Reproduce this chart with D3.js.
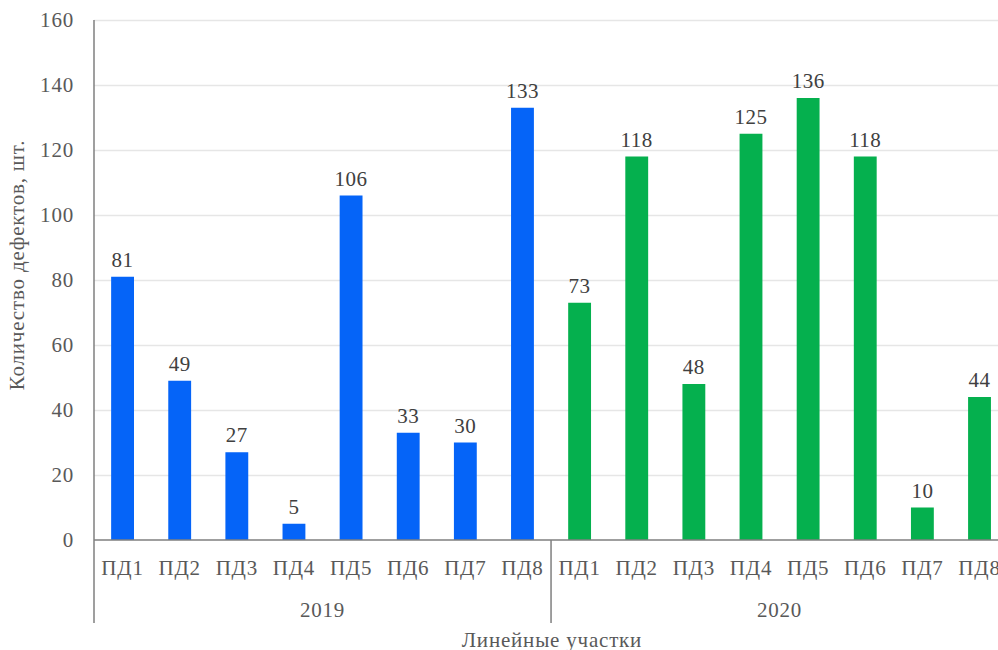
<!DOCTYPE html>
<html>
<head>
<meta charset="utf-8">
<script src="https://cdn.jsdelivr.net/npm/d3@7"></script>
<style>
  body { margin: 0; background: #fff; }
  svg text { font-family: "Liberation Serif", "Times New Roman", "DejaVu Serif", serif; }
  .grid line { stroke: #e6e6e6; stroke-width: 1.5; }
  .grid .domain { display: none; }
  .axis-line { stroke: #7f7f7f; stroke-width: 1.5; }
  .tick-label { fill: #595959; font-size: 21px; letter-spacing: 0.8px; }
  .value-label { fill: #404040; font-size: 21px; letter-spacing: 0.5px; }
</style>
</head>
<body>
<svg width="998" height="650"></svg>
<script>
var years = ["2019", "2020"];
var sections = ["ПД1", "ПД2", "ПД3", "ПД4", "ПД5", "ПД6", "ПД7", "ПД8"];
var values2019 = [81, 49, 27, 5, 106, 33, 30, 133];
var values2020 = [73, 118, 48, 125, 136, 118, 10, 44];
var yTicks = [0, 20, 40, 60, 80, 100, 120, 140, 160];
var colors = {"2019": "#0564f8", "2020": "#05b04e"};

var svg = d3.select("svg"),
    plotLeft = 94,
    plotTop = 20,
    plotBottom = 540,
    step = 57.13;

// flat list of bars, one per year/section
var data = [];
years.forEach(function(yr, i) {
    var vals = i === 0 ? values2019 : values2020;
    sections.forEach(function(s, j) {
        data.push({key: yr + "-" + s, year: yr, section: s, value: vals[j]});
    });
});

var x = d3.scaleBand()
    .domain(data.map(function(d) { return d.key; }))
    .range([plotLeft, plotLeft + step * data.length])
    .paddingInner(0.6)
    .paddingOuter(0.3);

var y = d3.scaleLinear()
    .domain([0, 160])
    .range([plotBottom, plotTop]);

// gridlines
svg.append("g")
    .attr("class", "grid")
    .attr("transform", "translate(" + plotLeft + ",0)")
    .call(d3.axisRight(y).tickValues(yTicks.slice(1)).tickSize(998 - plotLeft).tickFormat(""));

// y tick labels
svg.append("g").selectAll("text")
    .data(yTicks)
    .enter().append("text")
    .attr("class", "tick-label")
    .attr("x", 74)
    .attr("y", function(d) { return y(d); })
    .attr("dy", "0.35em")
    .attr("text-anchor", "end")
    .text(function(d) { return d; });

// bars
svg.append("g").selectAll("rect")
    .data(data)
    .enter().append("rect")
    .attr("x", function(d) { return x(d.key); })
    .attr("width", x.bandwidth())
    .attr("y", function(d) { return y(d.value); })
    .attr("height", function(d) { return y(0) - y(d.value); })
    .attr("fill", function(d) { return colors[d.year]; });

// value labels
svg.append("g").selectAll("text")
    .data(data)
    .enter().append("text")
    .attr("class", "value-label")
    .attr("x", function(d) { return x(d.key) + x.bandwidth() / 2; })
    .attr("y", function(d) { return y(d.value) - 10; })
    .attr("text-anchor", "middle")
    .text(function(d) { return d.value; });

// axes lines
svg.append("line").attr("class", "axis-line")
    .attr("x1", plotLeft).attr("x2", 998).attr("y1", plotBottom).attr("y2", plotBottom);
svg.append("line").attr("class", "axis-line")
    .attr("x1", plotLeft).attr("x2", plotLeft).attr("y1", plotTop).attr("y2", 623);
svg.append("line").attr("class", "axis-line")
    .attr("x1", plotLeft + step * 8).attr("x2", plotLeft + step * 8).attr("y1", plotBottom).attr("y2", 623);

// category labels
svg.append("g").selectAll("text")
    .data(data)
    .enter().append("text")
    .attr("class", "tick-label")
    .attr("x", function(d) { return x(d.key) + x.bandwidth() / 2; })
    .attr("y", 575)
    .attr("text-anchor", "middle")
    .text(function(d) { return d.section; });

// year labels
svg.append("g").selectAll("text")
    .data(years)
    .enter().append("text")
    .attr("class", "tick-label")
    .attr("x", function(d, i) { return plotLeft + step * 8 * i + step * 4; })
    .attr("y", 617)
    .attr("text-anchor", "middle")
    .text(function(d) { return d; });

// axis titles
svg.append("text")
    .attr("class", "tick-label")
    .attr("x", 552)
    .attr("y", 647)
    .attr("text-anchor", "middle")
    .text("Линейные участки");

svg.append("text")
    .attr("class", "tick-label")
    .attr("transform", "translate(24,265) rotate(-90)")
    .attr("text-anchor", "middle")
    .text("Количество дефектов, шт.");
</script>
</body>
</html>
